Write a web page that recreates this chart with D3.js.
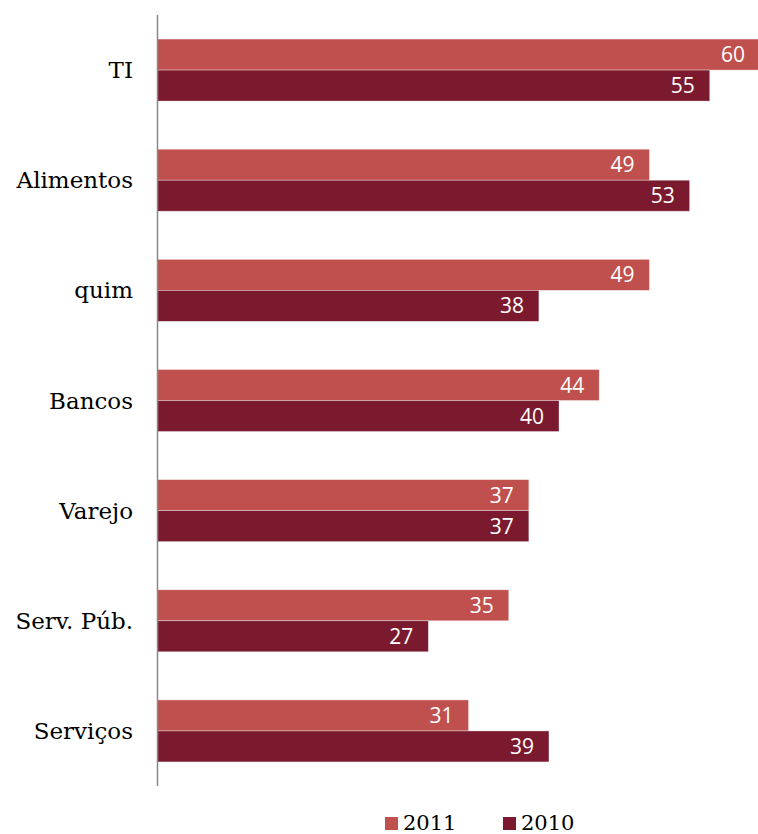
<!DOCTYPE html>
<html>
<head>
<meta charset="utf-8">
<script src="https://cdn.jsdelivr.net/npm/d3@7"></script>
<style>
  body { margin: 0; background: #fff; }
  .cat { font-family: "DejaVu Serif", "Liberation Serif", serif; font-size: 23px; fill: #000; }
  .val { font-family: "Open Sans", "Noto Sans", sans-serif; font-size: 21px; fill: #fff; }
  .leg { font-family: "DejaVu Serif", "Liberation Serif", serif; font-size: 21px; fill: #000; }
</style>
</head>
<body>
<div id="chart"></div>
<script>
var categories = ["TI", "Alimentos", "quim", "Bancos", "Varejo", "Serv. Púb.", "Serviços"];
var values2011 = [60, 49, 49, 44, 37, 35, 31];
var values2010 = [55, 53, 38, 40, 37, 27, 39];
var seriesNames = ["2011", "2010"];
var colors = ["#C0504D", "#7B1A2E"];

function main() {
    var width = 758,
      height = 834;

    var svg = d3.select("#chart").append("svg").attr("width", width).attr("height", height);

    var y = d3.scaleBand().domain(categories).range([15, 786]);
    var inner = d3.scaleBand().domain(seriesNames).range([0, 62]);
    var x = d3.scaleLinear().domain([0, 60]).range([157, 760]);

    var rows = categories.map(function(c, i) {
        return { cat: c, vals: [values2011[i], values2010[i]] };
    });

    var g = svg.selectAll(".row").data(rows).enter().append("g")
      .attr("class", "row")
      .attr("transform", function(d) { return "translate(0," + (y(d.cat) + (y.bandwidth() - 62) / 2) + ")"; });

    seriesNames.forEach(function(s, si) {
        g.append("rect")
          .attr("x", x(0))
          .attr("y", inner(s))
          .attr("width", function(d) { return x(d.vals[si]) - x(0); })
          .attr("height", inner.bandwidth())
          .attr("fill", colors[si])
          .attr("stroke", "#fff")
          .attr("stroke-opacity", 0.5)
          .attr("stroke-width", 0.7);

        g.append("text")
          .attr("class", "val")
          .attr("x", function(d) { return x(d.vals[si]) - 15; })
          .attr("y", inner(s) + inner.bandwidth() / 2)
          .attr("dy", "0.36em")
          .attr("text-anchor", "end")
          .text(function(d) { return d.vals[si]; });
    });

    g.append("text")
      .attr("class", "cat")
      .attr("x", 133)
      .attr("y", 31)
      .attr("dy", "0.35em")
      .attr("text-anchor", "end")
      .text(function(d) { return d.cat; });

    // axis line
    svg.append("line")
      .attr("x1", 157.5).attr("x2", 157.5)
      .attr("y1", 15).attr("y2", 786)
      .attr("stroke", "#888").attr("stroke-width", 1.5);

    // legend
    var legX = [385, 503];
    var leg = svg.selectAll(".legitem").data(seriesNames).enter().append("g")
      .attr("class", "legitem")
      .attr("transform", function(d, i) { return "translate(" + legX[i] + ",817)"; });
    leg.append("rect").attr("width", 13).attr("height", 13)
      .attr("fill", function(d, i) { return colors[i]; });
    leg.append("text").attr("class", "leg")
      .attr("x", 18).attr("y", 13)
      .text(function(d) { return d; });
}

main();
</script>
</body>
</html>
